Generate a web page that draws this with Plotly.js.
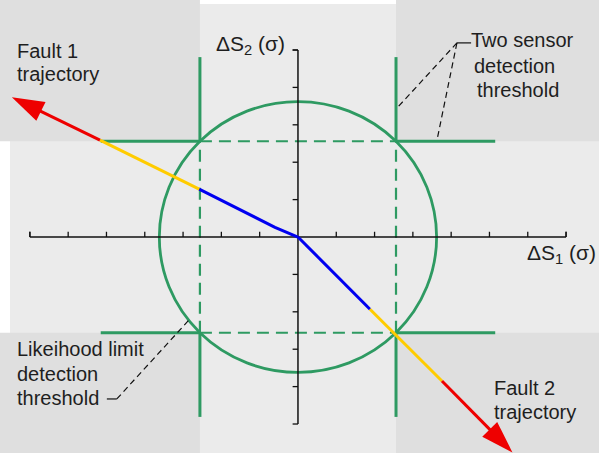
<!DOCTYPE html>
<html>
<head>
<meta charset="utf-8">
<script src="https://cdn.plot.ly/plotly-3.0.1.min.js"></script>
<style>
  html, body { margin: 0; padding: 0; background: #fff; }
  #chart { width: 599px; height: 453px; }
</style>
</head>
<body>
<div id="chart"></div>
<script>
// axis ticks, in sigma
var xTicks = [-7, -6, -5, -4, -3, -2, -1, 1, 2, 3, 4, 5, 6, 7];
var yTicks = [-5, -4, -3, -2, -1, 1, 2, 3, 4, 5];
var xAxisEnds = [-7, 7];
var yAxisEnds = [-5, 5];

// detection limits
var threshold = 2.56;          // single sensor threshold
var likelihoodRadius = 3.62;   // likelihood limit circle
var thresholdReachX = 5.15;    // how far the horizontal threshold lines go
var thresholdReachY = 4.81;    // how far the vertical threshold lines go

// fault trajectories (blue: undetected, yellow: likelihood only, red: both)
var fault1X = [0, -0.6, -2.58, -5.17, -7.47];
var fault1Y = [0, 0.26, 1.28, 2.59, 3.74];
var fault2X = [0, 1.88, 3.76, 5.6];
var fault2Y = [0, -1.93, -3.85, -5.76];

// dashed callout lines
var leader1X = [4.15, 2.56, null, 4.15, 3.63];
var leader1Y = [5.19, 3.42, null, 5.19, 2.59];
var leader2X = [-4.73, -2.82];
var leader2Y = [-4.33, -2.19];
var leaderStubX = [4.52, 4.15, null, -4.99, -4.73];
var leaderStubY = [5.19, 5.19, null, -4.33, -4.33];

var xRange = [-7.78, 7.86];
var yRange = [-5.775, 6.337];

var GREEN = "#2e9a62";
var BLUE = "#0000f0";
var YELLOW = "#ffcc00";
var RED = "#ee0000";
var BG = "#ebebeb";
var BG_DARK = "#dfdfdf";
var FONT = "Liberation Sans, Arial, sans-serif";

function px(x, y) {
    return { x: x / 599, y: 1 - y / 453 };
}

function seg(xs, ys, from, to, color, width) {
    return {
        x: xs.slice(from, to + 1),
        y: ys.slice(from, to + 1),
        type: "scatter",
        mode: "lines",
        line: { color: color, width: width },
        hoverinfo: "skip"
    };
}

// last leg of a trajectory, with an arrow head at its end
function arrowSeg(xs, ys) {
    var n = xs.length - 1;
    return {
        x: [xs[n - 1], xs[n]],
        y: [ys[n - 1], ys[n]],
        type: "scatter",
        mode: "lines+markers",
        opacity: 1,
        line: { color: RED, width: 3 },
        marker: {
            symbol: "arrow", size: [0, 34], color: RED, opacity: 1,
            angleref: "previous", line: { width: 0 }
        },
        hoverinfo: "skip"
    };
}

var T = threshold;

// green threshold lines, solid outside the box and dashed inside
var solidV = {
    x: [-T, -T, null, -T, -T, null, T, T, null, T, T],
    y: [T, thresholdReachY, null, -T, -thresholdReachY, null, T, thresholdReachY, null, -T, -thresholdReachY]
};
var solidH = {
    x: [-thresholdReachX, -T, null, T, thresholdReachX, null, -thresholdReachX, -T, null, T, thresholdReachX],
    y: [T, T, null, T, T, null, -T, -T, null, -T, -T]
};
var dashedBox = {
    x: [-T, -T, null, T, T, null, -T, T, null, -T, T],
    y: [-T, T, null, -T, T, null, T, T, null, -T, -T]
};

var tickX = [], tickY = [];
xTicks.forEach(function (t) { tickX.push(t, t, null); tickY.push(0, 0.14, null); });
yTicks.forEach(function (t) { tickX.push(0, -0.14, null); tickY.push(t, t, null); });
// ticks at the axis ends
tickX.push(xAxisEnds[0], xAxisEnds[0], null, xAxisEnds[1], xAxisEnds[1], null, 0, -0.14);
tickY.push(0, 0.14, null, 0, 0.14, null, yAxisEnds[1], yAxisEnds[1]);

var data = [
    { x: solidV.x, y: solidV.y, type: "scatter", mode: "lines", line: { color: GREEN, width: 3 }, hoverinfo: "skip" },
    { x: solidH.x, y: solidH.y, type: "scatter", mode: "lines", line: { color: GREEN, width: 3 }, hoverinfo: "skip" },
    { x: dashedBox.x, y: dashedBox.y, type: "scatter", mode: "lines", line: { color: GREEN, width: 2.2, dash: "12px,7px" }, hoverinfo: "skip" },
    { x: xAxisEnds, y: [0, 0], type: "scatter", mode: "lines", line: { color: "#111", width: 1.5 }, hoverinfo: "skip" },
    { x: [0, 0], y: yAxisEnds, type: "scatter", mode: "lines", line: { color: "#111", width: 1.5 }, hoverinfo: "skip" },
    { x: tickX, y: tickY, type: "scatter", mode: "lines", line: { color: "#111", width: 1.3 }, hoverinfo: "skip" },
    { x: leader1X, y: leader1Y, type: "scatter", mode: "lines", line: { color: "#111", width: 1.2, dash: "6px,4px" }, hoverinfo: "skip" },
    { x: leader2X, y: leader2Y, type: "scatter", mode: "lines", line: { color: "#111", width: 1.2, dash: "6px,4px" }, hoverinfo: "skip" },
    { x: leaderStubX, y: leaderStubY, type: "scatter", mode: "lines", line: { color: "#111", width: 1.2 }, hoverinfo: "skip" },
    seg(fault1X, fault1Y, 0, 2, BLUE, 3),
    seg(fault1X, fault1Y, 2, 3, YELLOW, 3),
    arrowSeg(fault1X, fault1Y),
    seg(fault2X, fault2Y, 0, 1, BLUE, 3),
    seg(fault2X, fault2Y, 1, 2, YELLOW, 3),
    arrowSeg(fault2X, fault2Y)
];

var shapes = [
    { type: "rect", xref: "paper", yref: "paper", x0: 10 / 599, x1: 1, y0: 0, y1: 1 - 4 / 453,
      fillcolor: BG, line: { width: 0 }, layer: "below" },
    { type: "rect", xref: "x", yref: "y", x0: xRange[0], x1: -T, y0: T, y1: yRange[1], fillcolor: BG_DARK, line: { width: 0 }, layer: "below" },
    { type: "rect", xref: "x", yref: "y", x0: T, x1: xRange[1], y0: T, y1: yRange[1], fillcolor: BG_DARK, line: { width: 0 }, layer: "below" },
    { type: "rect", xref: "x", yref: "y", x0: xRange[0], x1: -T, y0: yRange[0], y1: -T, fillcolor: BG_DARK, line: { width: 0 }, layer: "below" },
    { type: "rect", xref: "x", yref: "y", x0: T, x1: xRange[1], y0: yRange[0], y1: -T, fillcolor: BG_DARK, line: { width: 0 }, layer: "below" },
    // white strips left and top of the drawing
    { type: "rect", xref: "paper", yref: "paper", x0: 0, x1: 10 / 599, y0: 0, y1: 1, fillcolor: "#fff", line: { width: 0 }, layer: "below" },
    { type: "rect", xref: "paper", yref: "paper", x0: 0, x1: 1, y0: 1 - 4 / 453, y1: 1, fillcolor: "#fff", line: { width: 0 }, layer: "below" },
    { type: "circle", xref: "x", yref: "y", x0: -likelihoodRadius, x1: likelihoodRadius,
      y0: -likelihoodRadius, y1: likelihoodRadius, line: { color: GREEN, width: 2.8 }, layer: "below" }
];

function label(text, x, y, size) {
    var p = px(x, y);
    return {
        xref: "paper", yref: "paper", x: p.x, y: p.y,
        xanchor: "left", yanchor: "middle", showarrow: false,
        text: text, font: { family: FONT, size: size || 20, color: "#1e1e1e" }
    };
}

var annotations = [
    label("Fault 1", 15, 51),
    label("trajectory", 15, 74),
    label("Two sensor", 469, 40),
    label("detection", 472, 66),
    label("threshold", 475, 90),
    label("Likeihood limit", 15, 349),
    label("detection", 15, 374),
    label("threshold", 15, 398),
    label("Fault 2", 492, 388),
    label("trajectory", 492, 412),
    label("ΔS<sub style=\"font-size:86%\">2</sub> (σ)", 214, 45, 21),
    label("ΔS<sub style=\"font-size:86%\">1</sub> (σ)", 525, 254, 21)
];

var layout = {
    width: 599,
    height: 453,
    margin: { l: 0, r: 0, t: 0, b: 0 },
    paper_bgcolor: "#fff",
    plot_bgcolor: "rgba(0,0,0,0)",
    showlegend: false,
    xaxis: { range: xRange, visible: false, fixedrange: true },
    yaxis: { range: yRange, visible: false, fixedrange: true },
    shapes: shapes,
    annotations: annotations
};

Plotly.newPlot("chart", data, layout, { displayModeBar: false, staticPlot: true });
</script>
</body>
</html>
